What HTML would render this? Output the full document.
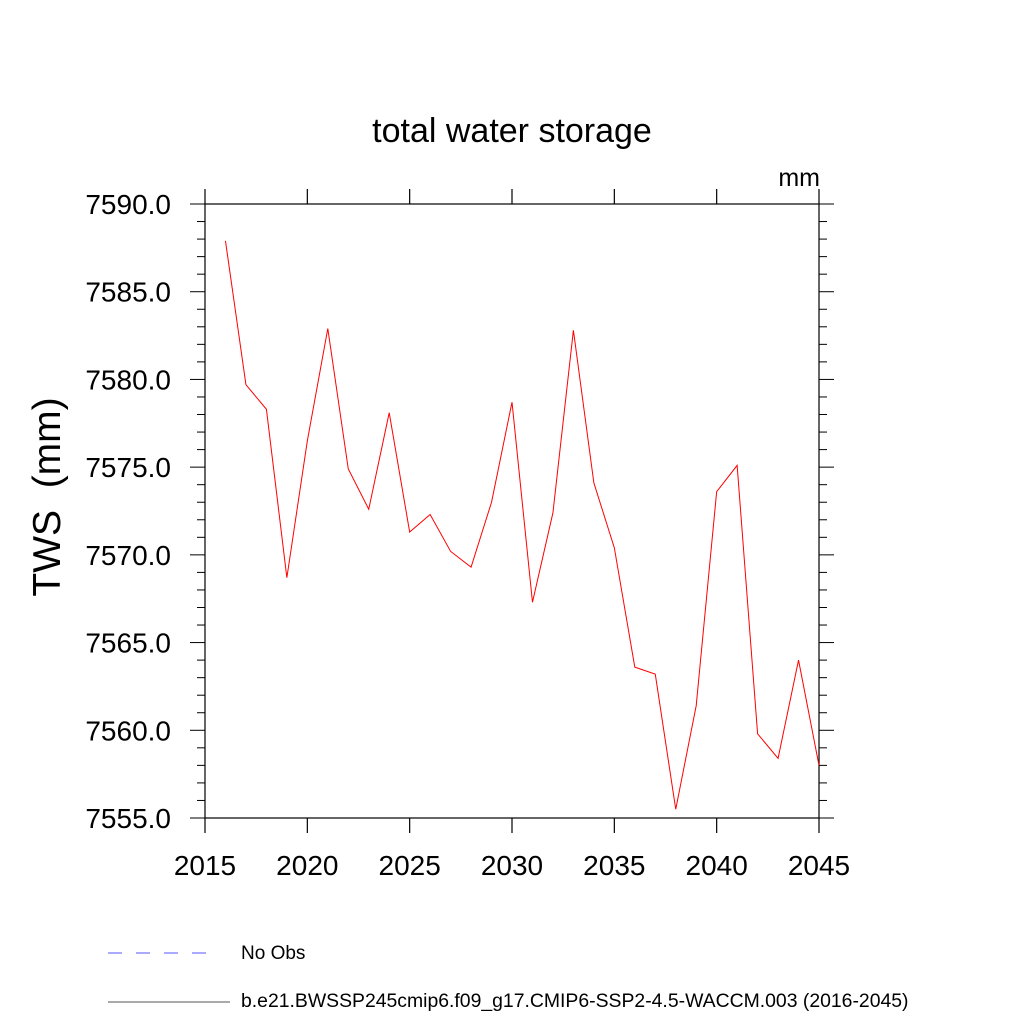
<!DOCTYPE html>
<html><head><meta charset="utf-8"><style>body{margin:0;background:#fff}svg{display:block}text{white-space:pre}</style></head>
<body>
<svg id="c" width="1024" height="1024" xmlns="http://www.w3.org/2000/svg" font-family="Liberation Sans, sans-serif">
<text x="512" y="142" font-size="34" text-anchor="middle">total water storage</text>
<text x="820" y="186" font-size="25" text-anchor="end">mm</text>
<text transform="translate(60,497) rotate(-90)" font-size="39" text-anchor="middle" xml:space="preserve">TWS  (mm)</text>
<g id="axes"></g>
<g id="series"></g>
<line x1="108" y1="953" x2="218" y2="953" stroke="#5555ff" stroke-width="1" stroke-dasharray="14,14"/>
<text x="241" y="959" font-size="19">No Obs</text>
<line x1="108" y1="1002" x2="230" y2="1002" stroke="#555" stroke-width="1"/>
<text x="241" y="1007" font-size="19.4">b.e21.BWSSP245cmip6.f09_g17.CMIP6-SSP2-4.5-WACCM.003 (2016-2045)</text>
</svg>
<script>
const years=[2016,2017,2018,2019,2020,2021,2022,2023,2024,2025,2026,2027,2028,2029,2030,2031,2032,2033,2034,2035,2036,2037,2038,2039,2040,2041,2042,2043,2044,2045];
const tws=[7587.9,7579.7,7578.3,7568.7,7576.5,7582.9,7574.9,7572.6,7578.1,7571.3,7572.3,7570.2,7569.3,7573.0,7578.7,7567.3,7572.4,7582.8,7574.1,7570.4,7563.6,7563.2,7555.5,7561.4,7573.6,7575.1,7559.8,7558.4,7564.0,7558.0];
const xTicks=[2015,2020,2025,2030,2035,2040,2045];
const yTicks=[7555,7560,7565,7570,7575,7580,7585,7590];
const L=205,R=819,T=204,B=818,x0=2015,x1=2045,y0=7555,y1=7590;
const X=v=>L+(v-x0)/(x1-x0)*(R-L);
const Y=v=>B-(v-y0)/(y1-y0)*(B-T);
const NS="http://www.w3.org/2000/svg";
const ax=document.getElementById('axes'),se=document.getElementById('series');
function ln(p,a,b,c,d,w,col,name){const e=document.createElementNS(NS,'line');e.setAttribute('x1',a);e.setAttribute('y1',b);e.setAttribute('x2',c);e.setAttribute('y2',d);e.setAttribute('stroke',col||'#000');e.setAttribute('stroke-width',w||1);


p.appendChild(e);return e;}
function tx(p,x,y,s,anchor,name){const e=document.createElementNS(NS,'text');e.setAttribute('x',x);e.setAttribute('y',y);e.setAttribute('font-size','28');e.setAttribute('text-anchor',anchor);e.textContent=s;


p.appendChild(e);}
const fr=document.createElementNS(NS,'rect');fr.setAttribute('x',L);fr.setAttribute('y',T);fr.setAttribute('width',R-L);fr.setAttribute('height',B-T);fr.setAttribute('fill','none');fr.setAttribute('stroke','#000');fr.setAttribute('stroke-width','1.2');


ax.appendChild(fr);
xTicks.forEach(v=>{const x=X(v);ln(ax,x,B,x,B+15,1.2,'#000','x-tick');ln(ax,x,T,x,T-15,1.2,'#000','x-tick-top');tx(ax,x,B+57,String(v),'middle','x-tick-label');});
for(let v=y0;v<=y1;v+=1){const y=Y(v);const maj=(v%5===0);const len=maj?15:8;
ln(ax,L,y,L-len,y,1,'#000',maj?'y-tick':'y-minor-tick');ln(ax,R,y,R+len,y,1,'#000',maj?'y-tick-right':'y-minor-tick-right');}
yTicks.forEach(v=>tx(ax,171,Y(v)+10,v.toFixed(1),'end','y-tick-label'));
const pl=document.createElementNS(NS,'polyline');
pl.setAttribute('points',years.map((y,i)=>X(y)+','+Y(tws[i])).join(' '));
pl.setAttribute('fill','none');pl.setAttribute('stroke','#ff0000');pl.setAttribute('stroke-width','1');


se.appendChild(pl);
</script>
</body></html>
